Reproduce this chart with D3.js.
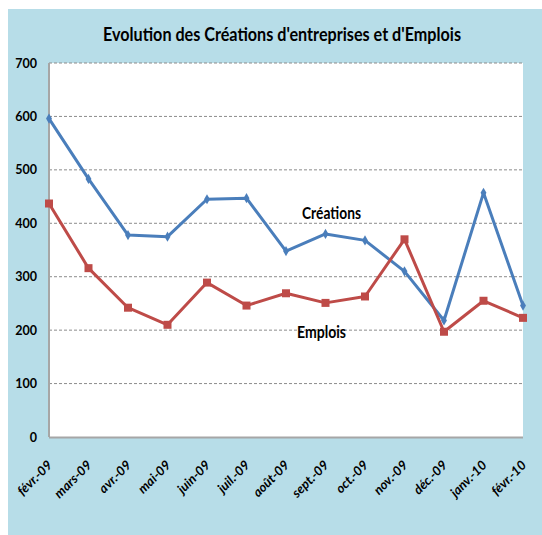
<!DOCTYPE html>
<html>
<head>
<meta charset="utf-8">
<script src="https://d3js.org/d3.v7.min.js"></script>
<style>
  body { margin: 0; background: #fff; }
  svg text { font-family: Lato, "Open Sans", sans-serif; }
</style>
</head>
<body>
<svg></svg>
<script>
// months on the x axis
const months = ['févr.-09', 'mars-09', 'avr.-09', 'mai-09', 'juin-09', 'juil.-09', 'août-09',
  'sept.-09', 'oct.-09', 'nov.-09', 'déc.-09', 'janv.-10', 'févr.-10'];
const creations = [596, 483, 378, 375, 445, 447, 348, 380, 368, 310, 218, 457, 246];
const emplois = [437, 316, 242, 210, 289, 246, 269, 251, 263, 370, 197, 255, 223];
const yTicks = [0, 100, 200, 300, 400, 500, 600, 700];

const width = 542, height = 535,
    margin = { top: 63, right: 19, bottom: 98, left: 49 };

const svg = d3.select('svg')
    .attr('width', width)
    .attr('height', height);

// outer blue frame
svg.append('rect')
    .attr('x', 8).attr('y', 9)
    .attr('width', width - 8).attr('height', height - 9)
    .attr('fill', '#b7dde8');

const x = d3.scalePoint()
    .domain(months)
    .range([margin.left, width - margin.right]);

const y = d3.scaleLinear()
    .domain([0, 700])
    .range([height - margin.bottom, margin.top]);

// plot area
svg.append('rect')
    .attr('x', margin.left).attr('y', margin.top)
    .attr('width', width - margin.right - margin.left)
    .attr('height', height - margin.bottom - margin.top)
    .attr('fill', '#fff');

// dashed grid lines
svg.append('g')
    .selectAll('line')
    .data(yTicks.filter(d => d > 0))
    .join('line')
    .attr('x1', margin.left).attr('x2', width - margin.right)
    .attr('y1', d => y(d)).attr('y2', d => y(d))
    .attr('stroke', '#8c8c8c')
    .attr('stroke-width', 1)
    .attr('stroke-dasharray', '3,2');

// axis lines
svg.append('line')
    .attr('x1', margin.left).attr('x2', margin.left)
    .attr('y1', margin.top).attr('y2', y(0))
    .attr('stroke', '#a6a6a6').attr('stroke-width', 2);
svg.append('line')
    .attr('x1', margin.left).attr('x2', width - margin.right)
    .attr('y1', y(0) + 0.5).attr('y2', y(0) + 0.5)
    .attr('stroke', '#a6a6a6').attr('stroke-width', 2);

// y labels
const yAxis = svg.append('g')
    .attr('transform', `translate(${margin.left},0)`)
    .call(d3.axisLeft(y).tickValues(yTicks).tickSize(0).tickPadding(12));
yAxis.select('.domain').remove();
yAxis.selectAll('text')
    .attr('font-family', 'Lato, sans-serif')
    .attr('font-size', 12.5)
    .attr('font-weight', 'bold')
    .attr('fill', '#000');

// x labels, rotated
svg.append('g')
    .selectAll('text')
    .data(months)
    .join('text')
    .attr('transform', d => `translate(${x(d) + 4},${y(0) + 29}) rotate(-45)`)
    .attr('text-anchor', 'end')
    .attr('font-size', 13)
    .attr('font-weight', 'bold')
    .attr('font-style', 'italic')
    .text(d => d);

const line = d3.line()
    .x((d, i) => x(months[i]))
    .y(d => y(d));

// Créations: blue line with diamonds
svg.append('path')
    .datum(creations)
    .attr('d', line)
    .attr('fill', 'none')
    .attr('stroke', '#4a7ebb')
    .attr('stroke-width', 3)
    .attr('stroke-linejoin', 'round');
svg.append('g')
    .selectAll('path')
    .data(creations)
    .join('path')
    .attr('d', d3.symbol(d3.symbolDiamond, 30))
    .attr('transform', (d, i) => `translate(${x(months[i])},${y(d)})`)
    .attr('fill', '#4a7ebb');

// Emplois: red line with squares
svg.append('path')
    .datum(emplois)
    .attr('d', line)
    .attr('fill', 'none')
    .attr('stroke', '#be4b48')
    .attr('stroke-width', 3)
    .attr('stroke-linejoin', 'round');
svg.append('g')
    .selectAll('rect')
    .data(emplois)
    .join('rect')
    .attr('x', (d, i) => x(months[i]) - 4)
    .attr('y', d => y(d) - 4)
    .attr('width', 8).attr('height', 8)
    .attr('fill', '#be4b48');

// series labels
svg.append('text')
    .attr('x', 302).attr('y', 219)
    .attr('font-size', 17).attr('font-weight', 'bold')
    .attr('textLength', 59).attr('lengthAdjust', 'spacingAndGlyphs')
    .text('Créations');
svg.append('text')
    .attr('x', 297).attr('y', 338)
    .attr('font-size', 17).attr('font-weight', 'bold')
    .attr('textLength', 49).attr('lengthAdjust', 'spacingAndGlyphs')
    .text('Emplois');

// title
svg.append('text')
    .attr('x', 103).attr('y', 41)
    .attr('font-size', 19).attr('font-weight', 'bold')
    .attr('textLength', 358).attr('lengthAdjust', 'spacingAndGlyphs')
    .text("Evolution des Créations d'entreprises et d'Emplois");
</script>
</body>
</html>
